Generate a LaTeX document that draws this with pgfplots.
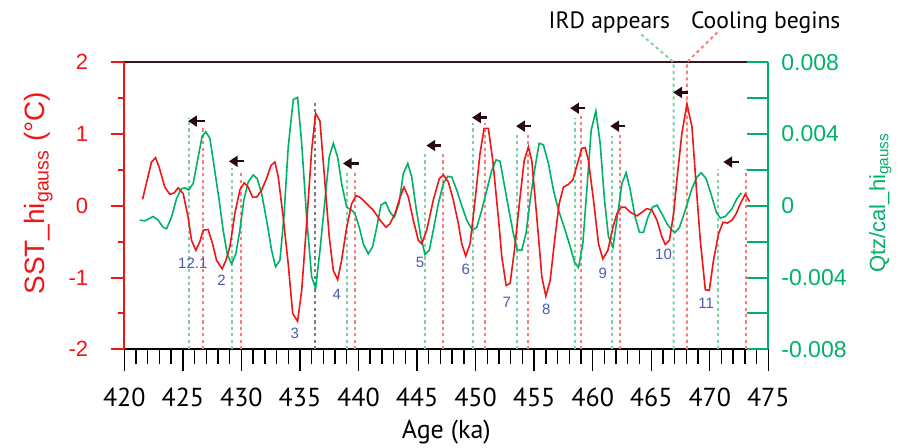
\documentclass[border=0pt]{standalone}
\usepackage{fontspec}
\setmainfont{Liberation Sans}
\newfontfamily\myriad{PT Sans}
\usepackage{pgfplots}
\pgfplotsset{compat=1.18}
\usetikzlibrary{arrows.meta}
\definecolor{sstred}{RGB}{240,22,22}
\definecolor{qtzgreen}{RGB}{0,178,104}
\definecolor{dotgreen}{RGB}{125,210,165}
\definecolor{dotred}{RGB}{250,125,125}
\definecolor{dotgray}{RGB}{125,125,125}
\definecolor{eventblue}{RGB}{72,92,170}
\definecolor{arrowc}{RGB}{40,10,18}
\definecolor{topline}{RGB}{55,25,30}

\pgfplotsset{
  base/.style={scale only axis, width=322pt, height=143.5pt,
    xmin=420, xmax=475, /pgf/number format/assume math mode=true},
  dg/.style={color=dotgreen, line width=1pt, dash pattern=on 1.6pt off 1.6pt},
  dr/.style={color=dotred, line width=1pt, dash pattern=on 1.6pt off 1.6pt},
  arr/.style={color=arrowc, line width=1.1pt, -{Triangle[length=4.4pt,width=5.4pt]}},
}
\tikzset{ev/.style={font=\fontsize{7.5}{9}\selectfont, text=eventblue}}

\pgfplotstableread{
x y
421.56 0.09
422.32 0.61
422.67 0.67
422.97 0.54
423.46 0.26
423.89 0.16
424.26 0.18
424.60 0.25
425.03 0.17
425.45 -0.16
425.74 -0.48
426.11 -0.62
426.45 -0.50
426.74 -0.34
427.16 -0.33
427.54 -0.53
427.88 -0.76
428.36 -0.88
428.68 -0.76
429.02 -0.57
429.44 -0.11
429.87 0.22
430.24 0.32
430.58 0.26
430.96 0.12
431.30 0.12
431.73 0.22
432.15 0.38
432.52 0.56
432.86 0.61
433.15 0.40
433.57 -0.16
434.00 -0.81
434.38 -1.50
434.80 -1.61
435.15 -1.18
435.57 -0.25
436.00 0.77
436.34 1.29
436.71 1.18
437.14 0.31
437.50 -0.43
437.85 -0.90
438.22 -1.03
438.56 -0.76
438.99 -0.30
439.42 0.03
439.79 0.14
440.13 0.12
440.70 0.03
441.26 -0.06
441.84 -0.20
442.35 -0.30
442.69 -0.25
443.12 -0.11
443.55 0.12
443.89 0.26
444.26 0.12
444.68 -0.20
445.11 -0.48
445.40 -0.53
445.83 -0.34
446.39 0.08
446.91 0.38
447.25 0.43
447.68 0.33
448.10 0.08
448.53 -0.25
448.82 -0.53
449.16 -0.70
449.53 -0.53
449.96 0.08
450.38 0.73
450.73 1.08
451.09 1.08
451.47 0.63
451.95 -0.17
452.24 -0.71
452.61 -1.11
452.95 -1.08
453.32 -0.62
453.74 0.03
454.15 0.63
454.51 0.82
454.80 0.63
455.23 -0.16
455.66 -0.99
456.00 -1.26
456.37 -1.04
456.79 -0.43
457.14 0.03
457.50 0.26
457.93 0.30
458.31 0.36
458.65 0.56
459.08 0.80
459.36 0.81
459.64 0.63
460.07 0.08
460.50 -0.53
460.87 -0.74
461.30 -0.62
461.73 -0.30
462.07 -0.11
462.44 -0.02
462.78 -0.02
463.21 -0.09
463.78 -0.14
464.21 -0.09
464.63 -0.04
465.06 -0.06
465.49 -0.20
465.91 -0.43
466.20 -0.54
466.56 -0.48
466.91 -0.11
467.25 0.45
467.62 1.01
468.05 1.42
468.48 1.10
468.85 0.26
469.19 -0.48
469.62 -1.17
469.96 -1.18
470.32 -0.76
470.75 -0.39
471.13 -0.23
471.52 -0.24
471.90 -0.20
472.26 -0.11
472.61 0.03
473.03 0.16
473.40 0.06
}\sst

\pgfplotstableread{
x y
421.32 -0.00080
421.75 -0.00084
422.46 -0.00060
422.89 -0.00080
423.32 -0.00120
423.61 -0.00128
424.03 -0.00064
424.46 0.00040
424.89 0.00096
425.17 0.00100
425.51 0.00088
425.88 0.00124
426.31 0.00272
426.65 0.00388
426.97 0.00412
427.31 0.00376
427.68 0.00216
428.10 0.00032
428.44 -0.00136
428.79 -0.00268
429.16 -0.00324
429.53 -0.00268
429.87 -0.00136
430.21 0.00032
430.58 0.00132
431.01 0.00172
431.35 0.00152
431.73 0.00068
432.15 -0.00080
432.58 -0.00248
432.92 -0.00340
433.29 -0.00304
433.63 -0.00064
434.00 0.00328
434.43 0.00592
434.80 0.00604
435.15 0.00348
435.57 -0.00064
436.00 -0.00396
436.34 -0.00460
436.71 -0.00248
437.14 0.00032
437.50 0.00272
437.85 0.00348
438.22 0.00272
438.56 0.00124
438.99 -0.00008
439.42 -0.00024
439.70 -0.00044
440.07 -0.00120
440.41 -0.00212
440.84 -0.00268
441.21 -0.00228
441.56 -0.00120
441.92 0.00004
442.32 0.00020
442.69 -0.00036
443.06 -0.00064
443.46 0.00012
443.83 0.00180
444.21 0.00236
444.55 0.00160
444.91 -0.00008
445.32 -0.00172
445.68 -0.00272
446.05 -0.00248
446.39 -0.00136
446.82 0.00012
447.25 0.00124
447.62 0.00164
447.97 0.00160
448.39 0.00088
448.76 0.00012
449.25 -0.00080
449.73 -0.00136
450.10 -0.00120
450.53 -0.00024
450.96 0.00088
451.38 0.00196
451.75 0.00256
452.09 0.00248
452.38 0.00144
452.80 -0.00008
453.23 -0.00156
453.57 -0.00248
453.95 -0.00248
454.32 -0.00148
454.66 0.00032
455.03 0.00196
455.43 0.00348
455.79 0.00340
456.22 0.00236
456.65 0.00088
457.08 -0.00024
457.65 -0.00136
458.08 -0.00228
458.44 -0.00312
458.79 -0.00344
459.16 -0.00212
459.50 0.00088
459.87 0.00420
460.27 0.00528
460.64 0.00348
461.01 0.00032
461.35 -0.00172
461.73 -0.00232
462.07 -0.00080
462.50 0.00124
462.86 0.00184
463.21 0.00088
463.63 -0.00064
464.00 -0.00148
464.34 -0.00148
464.72 -0.00064
465.11 -0.00008
465.49 0.00004
465.91 -0.00044
466.34 -0.00100
466.77 -0.00136
467.05 -0.00148
467.42 -0.00120
467.91 -0.00024
468.48 0.00096
468.91 0.00160
469.27 0.00184
469.68 0.00152
470.10 0.00068
470.56 -0.00036
470.90 -0.00068
471.32 -0.00060
471.90 -0.00016
472.32 0.00040
472.69 0.00072
}\qtz

\begin{document}
\begin{tikzpicture}
\path[use as bounding box] (-62.15pt,-49.35pt) rectangle (397.85pt,174.65pt);

% annotations, bottom age axis
\begin{axis}[base, ymin=-2, ymax=2, clip=false,
  axis y line=none, axis x line*=bottom,
  x axis line style={black, line width=1pt, -},
  xtick={420,425,...,475}, minor x tick num=4,
  tick align=outside, major tick length=11pt, minor tick length=7.5pt,
  xtick style={black, line width=0.7pt},
  xticklabel style={font=\myriad\fontsize{13}{15}\selectfont, yshift=-5pt},
  xlabel={Age (ka)},
  every axis x label/.style={at={(axis description cs:0.5,-0.288)}, anchor=center,
    font=\myriad\fontsize{13}{15}\selectfont},
]
\draw[color=topline, line width=1pt] (rel axis cs:0,1) -- (rel axis cs:1,1);
\addplot[dg] coordinates {(425.51,-2)(425.51,1.22)};
\addplot[dr] coordinates {(426.71,-2)(426.71,1.08)};
\addplot[dg] coordinates {(429.19,-2)(429.19,0.52)};
\addplot[dr] coordinates {(429.96,-2)(429.96,0.49)};
\addplot[color=dotgray, line width=1pt, dash pattern=on 1.6pt off 1.6pt] coordinates {(436.31,-2)(436.31,1.44)};
\addplot[dg] coordinates {(438.99,-2)(438.99,0.48)};
\addplot[dr] coordinates {(439.70,-2)(439.70,0.48)};
\addplot[dg] coordinates {(445.71,-2)(445.71,0.72)};
\addplot[dr] coordinates {(447.19,-2)(447.19,0.72)};
\addplot[dg] coordinates {(449.76,-2)(449.76,1.16)};
\addplot[dr] coordinates {(450.81,-2)(450.81,1.16)};
\addplot[dg] coordinates {(453.55,-2)(453.55,1.01)};
\addplot[dr] coordinates {(454.49,-2)(454.49,0.98)};
\addplot[dg] coordinates {(458.45,-2)(458.45,1.22)};
\addplot[dr] coordinates {(458.99,-2)(458.99,1.29)};
\addplot[dg] coordinates {(461.69,-2)(461.69,0.97)};
\addplot[dr] coordinates {(462.35,-2)(462.35,0.98)};
\addplot[dg] coordinates {(466.91,-2)(466.91,2)(464.06,2.40)};
\addplot[dr] coordinates {(468.05,-2)(468.05,2)(470.73,2.43)};
\addplot[dg] coordinates {(470.73,-2)(470.73,0.51)};
\addplot[dr] coordinates {(473.06,-2)(473.06,0.51)};
% leads of the SST over the Qtz/cal signal
\addplot[arr] coordinates {(426.85,1.18)(425.45,1.18)};
\addplot[arr] coordinates {(430.23,0.62)(428.93,0.62)};
\addplot[arr] coordinates {(440.04,0.59)(438.67,0.59)};
\addplot[arr] coordinates {(447.05,0.84)(445.80,0.84)};
\addplot[arr] coordinates {(450.95,1.23)(449.70,1.23)};
\addplot[arr] coordinates {(454.75,1.11)(453.46,1.11)};
\addplot[arr] coordinates {(459.36,1.36)(458.08,1.36)};
\addplot[arr] coordinates {(462.78,1.11)(461.50,1.11)};
\addplot[arr] coordinates {(468.16,1.58)(466.88,1.58)};
\addplot[arr] coordinates {(472.53,0.61)(471.16,0.61)};
\node[ev] at (axis cs:425.85,-0.80) {12.1};
\node[ev] at (axis cs:428.31,-1.04) {2};
\node[ev] at (axis cs:434.57,-1.78) {3};
\node[ev] at (axis cs:438.14,-1.24) {4};
\node[ev] at (axis cs:445.26,-0.79) {5};
\node[ev] at (axis cs:449.16,-0.89) {6};
\node[ev] at (axis cs:452.67,-1.34) {7};
\node[ev] at (axis cs:456.03,-1.45) {8};
\node[ev] at (axis cs:460.87,-0.94) {9};
\node[ev] at (axis cs:466.05,-0.68) {10};
\node[ev] at (axis cs:469.70,-1.36) {11};
\node[font=\myriad\fontsize{11.8}{14}\selectfont, anchor=base, inner sep=0pt] at (axis cs:461.43,2.47) {IRD appears};
\node[font=\myriad\fontsize{11.8}{14}\selectfont, anchor=base, inner sep=0pt] at (axis cs:474.78,2.47) {Cooling begins};
\end{axis}

% Qtz/cal, right axis
\begin{axis}[base, ymin=-0.008, ymax=0.008,
  axis x line=none, axis y line*=right,
  y axis line style={qtzgreen, line width=1pt, -},
  scaled y ticks=false,
  ytick={-0.008,-0.004,0,0.004,0.008},
  yticklabels={-0.008,-0.004,0,0.004,0.008},
  minor ytick={-0.006,-0.002,0.002,0.006},
  tick align=inside, major tick length=10.5pt, minor tick length=10.5pt,
  ytick style={qtzgreen, line width=1pt},
  yticklabel style={text=qtzgreen, font=\fontsize{11.5}{13}\selectfont, xshift=3pt},
  ylabel={Qtz/cal\_hi\textsubscript{gauss}},
  every axis y label/.style={at={(axis description cs:1.174,0.511)}, rotate=90,
    anchor=center, text=qtzgreen, font=\fontsize{11}{13}\selectfont},
]
\addplot[color=qtzgreen, line width=0.8pt] table[x=x, y=y] {\qtz};
\end{axis}

% SST, left axis
\begin{axis}[base, ymin=-2, ymax=2,
  axis x line=none, axis y line*=left,
  y axis line style={sstred, line width=1pt, -},
  ytick={-2,-1,0,1,2}, minor y tick num=1,
  tick align=outside, major tick length=6.5pt, minor tick length=3pt,
  ytick style={sstred, line width=1pt},
  yticklabel style={text=sstred, font=\fontsize{11}{13}\selectfont, xshift=-8pt},
  ylabel={SST\_hi\textsubscript{gauss} (°C)},
  every axis y label/.style={at={(axis description cs:-0.1336,0.544)}, rotate=90,
    anchor=center, text=sstred, font=\fontsize{14}{16}\selectfont},
]
\addplot[color=sstred, line width=0.8pt] table[x=x, y=y] {\sst};
\end{axis}
\end{tikzpicture}
\end{document}
